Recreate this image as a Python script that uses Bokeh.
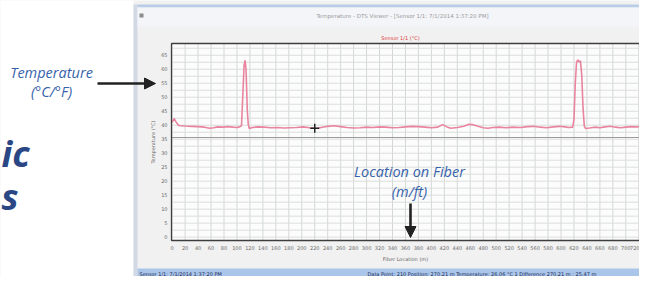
from bokeh.plotting import figure
from bokeh.models import Range1d, LinearAxis, FixedTicker, Arrow, NormalHead
from bokeh.core.properties import value
from bokeh.embed import file_html
from bokeh.resources import INLINE

# ---- data ----
location_m = [0, 3, 6, 10, 20, 30, 40, 50, 58, 64, 70, 78, 86, 94, 100, 104, 107, 109, 111,
              112.5, 114, 116, 117.5, 119, 124, 132, 142, 152, 162, 172, 182, 192, 202, 212,
              220, 226, 232, 240, 250, 260, 270, 280, 290, 300, 310, 320, 330, 340, 350, 360,
              370, 380, 390, 400, 410, 417, 424, 430, 440, 450, 458, 464, 472, 480, 487, 495,
              505, 515, 525, 538, 548, 558, 568, 578, 588, 598, 606, 612, 618, 620, 622, 624,
              626, 628, 630, 632, 634, 636, 638, 644, 652, 660, 668, 676, 684, 692, 700, 708,
              716, 724, 733]
temperature = [41.0, 42.4, 41.2, 39.9, 39.7, 39.6, 39.5, 39.3, 38.9, 39.1, 39.4, 39.3, 39.5,
               39.3, 39.2, 39.4, 39.8, 50.5, 61.5, 63.2, 60.0, 45.0, 40.2, 38.8, 39.2, 39.4,
               39.3, 39.1, 39.2, 39.0, 39.1, 39.2, 39.4, 39.1, 38.9, 39.0, 39.3, 39.6, 39.8,
               39.5, 39.2, 39.0, 39.1, 39.3, 39.2, 39.4, 39.3, 39.1, 39.2, 39.4, 39.6, 39.5,
               39.3, 39.1, 39.3, 40.2, 39.4, 38.9, 39.2, 39.6, 40.3, 40.2, 39.6, 39.1, 38.9,
               39.2, 39.3, 39.1, 39.3, 39.2, 39.5, 39.6, 39.3, 39.1, 39.4, 39.6, 39.4, 39.2,
               39.3, 42.0, 55.0, 62.5, 63.3, 62.6, 63.0, 58.0, 46.0, 39.6, 38.8, 39.0, 39.3,
               39.1, 39.4, 39.6, 39.3, 39.1, 39.3, 39.5, 39.4, 39.6, 39.5]
reference_level = 35.6
cursor_location = [220]
cursor_temperature = [38.9]
x_ticks = list(range(0, 721, 20))
y_ticks = list(range(0, 66, 5))

window_title = "Temperature - DTS Viewer - [Sensor 1/1: 7/1/2014 1:37:20 PM]"
chart_title = "Sensor 1/1 (°C)"
x_label = "Fiber Location (m)"
y_label = "Temperature (°C)"
status_left = "Sensor 1/1: 7/1/2014 1:37:20 PM"
status_right = "Data Point: 210 Position: 270.21 m Temperature: 26.06 °C  1 Difference 270.21 m : 25.47 m"

# ---- canvas in pixel coordinates; the chart lives in its own ranges ----
W, H = 639, 276
CH_L, CH_R, CH_T, CH_B = 171.0, 646.7, 43.0, 240.0   # chart frame on the canvas
X0, X1 = -1.0, 733.0
Y0, Y1 = -1.2, 69.2
kx = (CH_R - CH_L) / (X1 - X0)
ky = (CH_B - CH_T) / (Y1 - Y0)

p = figure(width=W, height=H, output_backend="svg", toolbar_location=None,
           x_range=Range1d(0, W), y_range=Range1d(H, 0),
           x_axis_location=None, y_axis_location=None, min_border=0,
           outline_line_color=None, background_fill_color="#f1f1f1",
           border_fill_color="#f1f1f1")
p.grid.visible = False
p.extra_x_ranges = {"loc": Range1d(X0 - CH_L / kx, X0 + (W - CH_L) / kx)}
p.extra_y_ranges = {"temp": Range1d(Y0 - (H - CH_B) / ky, Y0 + CH_B / ky)}

# window chrome
p.quad(left=0, right=133, top=0, bottom=H, fill_color="white", line_color=None)
p.quad(left=133, right=137, top=4, bottom=H, fill_color="#d3d8e6", line_color=None)
p.quad(left=137, right=W, top=4, bottom=7, fill_color="#b9cde8", line_color=None)
p.quad(left=137, right=W, top=7, bottom=26, fill_color="#f3f5f9", line_color=None)
p.quad(left=139, right=143, top=13, bottom=17, fill_color="#8c8c8c", line_color=None)
p.quad(left=137, right=W, top=268, bottom=277, fill_color="#a9c5ea", line_color=None)
p.quad(left=CH_L, right=CH_R, top=CH_T, bottom=CH_B, fill_color="#fcfcfc", line_color=None)

# chart grid, reference line, trace and cursor
y_grid = [i * 2.5 for i in range(28)]
p.segment(x0=x_ticks, y0=Y0, x1=x_ticks, y1=Y1, x_range_name="loc", y_range_name="temp",
          line_color="#d3d8d5", line_width=1)
p.segment(x0=X0, y0=y_grid, x1=X1, y1=y_grid, x_range_name="loc", y_range_name="temp",
          line_color="#dadedb", line_width=1)
p.segment(x0=[X0], y0=[reference_level], x1=[X1], y1=[reference_level],
          x_range_name="loc", y_range_name="temp", line_color="#9a9a9a", line_width=1)
p.line(location_m, temperature, x_range_name="loc", y_range_name="temp",
       line_color="#e9849f", line_width=1.6)
p.scatter(cursor_location, cursor_temperature, x_range_name="loc", y_range_name="temp",
          marker="cross", size=9, line_color="#222222", line_width=1.5)
p.quad(left=CH_L, right=CH_R, top=CH_T, bottom=CH_B, fill_color=None,
       line_color="#3e3e3e", line_width=1.3)

# axes placed at the chart frame edges
xaxis = LinearAxis(x_range_name="loc", fixed_location=CH_B, bounds=(X0, X1),
                   ticker=FixedTicker(ticks=x_ticks), axis_label=x_label)
yaxis = LinearAxis(y_range_name="temp", fixed_location=CH_L, bounds=(Y0, Y1),
                   ticker=FixedTicker(ticks=y_ticks), axis_label=y_label)
for ax in (xaxis, yaxis):
    ax.axis_line_color = None
    ax.major_tick_out = 0
    ax.major_tick_in = 0
    ax.minor_tick_out = 0
    ax.minor_tick_in = 0
    ax.major_label_text_font_size = "5px"
    ax.major_label_text_color = "#6a6a6a"
    ax.major_label_text_font = "DejaVu Sans"
    ax.axis_label_text_font_size = "5px"
    ax.axis_label_text_font_style = "normal"
    ax.axis_label_text_color = "#6a6a6a"
    ax.axis_label_text_font = "DejaVu Sans"
xaxis.major_label_standoff = 5
xaxis.axis_label_standoff = 3
yaxis.major_label_standoff = 4
yaxis.axis_label_standoff = 2
p.add_layout(xaxis, "below")
p.add_layout(yaxis, "left")


def txt(x, y, s, size, color, font="DejaVu Sans", style="normal", align="center"):
    p.text(x=[x], y=[y], text=[s], text_font=value(font), text_font_style=style,
           text_font_size=size, text_color=color, text_align=align,
           text_baseline="middle")


txt(402, 15, window_title, "5.5px", "#9c9c9c")
txt(400, 37, chart_title, "5px", "#e03535")
txt(139, 273, status_left, "5px", "#1c2b55", align="left")
txt(367, 273, status_right, "5px", "#1c2b55", align="left")

blue = "#3763ab"
txt(51, 72, "Temperature", "14.5px", blue, font="Open Sans", style="italic")
txt(51, 91, "(°C/°F)", "14.5px", blue, font="Open Sans", style="italic")
txt(409, 171, "Location on Fiber", "14.5px", blue, font="Open Sans", style="italic")
txt(409, 191, "(m/ft)", "14.5px", blue, font="Open Sans", style="italic")
txt(1, 153, "ic", "36px", "#2a4684", font="Open Sans", style="bold italic", align="left")
txt(1, 196, "s", "36px", "#2a4684", font="Open Sans", style="bold italic", align="left")

p.add_layout(Arrow(end=NormalHead(size=11, fill_color="#222222", line_color="#222222"),
                   x_start=97, y_start=83, x_end=155, y_end=83,
                   line_color="#222222", line_width=2.6))
p.add_layout(Arrow(end=NormalHead(size=11, fill_color="#222222", line_color="#222222"),
                   x_start=410, y_start=203, x_end=410, y_end=237,
                   line_color="#222222", line_width=2.6))

open("out.html", "w").write(file_html(p, INLINE))
